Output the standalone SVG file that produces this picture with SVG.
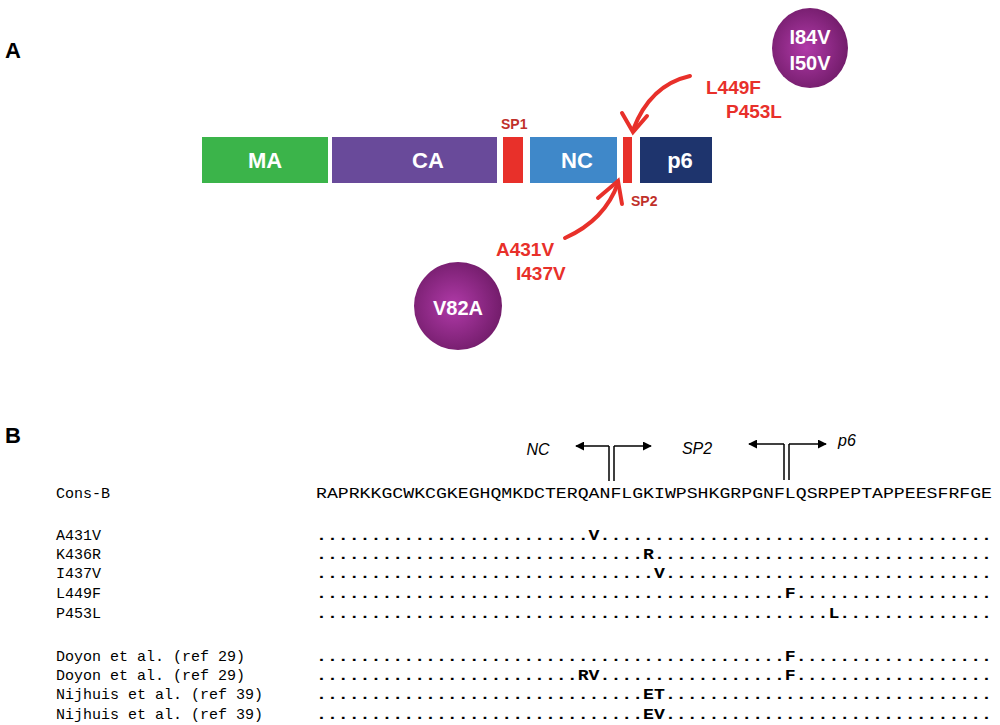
<svg xmlns="http://www.w3.org/2000/svg" width="1000" height="725" viewBox="0 0 1000 725">
<defs>
<radialGradient id="pg" cx="0.45" cy="0.5" r="0.6"><stop offset="0" stop-color="#b03aa8"/><stop offset="1" stop-color="#6e1a66"/></radialGradient>
<marker id="ah" viewBox="0 0 10 10" refX="9" refY="5" markerWidth="9" markerHeight="9" orient="auto" markerUnits="userSpaceOnUse"><path d="M0,0 L10,5 L0,10 z" fill="#000"/></marker>
</defs>
<style>
.lab{font-family:"Liberation Sans",Arial,sans-serif;font-weight:bold;fill:#fff;font-size:22px;text-anchor:middle}
.red{font-family:"Liberation Sans Narrow","Liberation Sans",sans-serif;font-weight:bold;fill:#e8302a;font-size:19px}
.sp{font-family:"Liberation Sans",sans-serif;font-weight:bold;fill:#c0302a;font-size:14px}
.mono{font-family:"Liberation Mono","Courier New",monospace;font-size:15px;fill:#000}
.it{font-family:"Liberation Sans",sans-serif;font-style:italic;font-size:16px;fill:#000}
.big{font-family:"Liberation Sans",sans-serif;font-weight:bold;font-size:22px;fill:#000}
</style>
<text class="big" x="5" y="58">A</text>
<text class="big" x="5" y="443">B</text>
<g id="MA"><rect x="202" y="137" width="126" height="46" fill="#3bb44a"/><text class="lab" x="265" y="168">MA</text></g>
<g id="CA"><rect x="332" y="137" width="165" height="46" fill="#694a9a"/><text class="lab" x="428" y="168">CA</text></g>
<g id="SP1"><rect x="503" y="137" width="20" height="46" fill="#e8302a"/><text class="sp" x="501" y="129">SP1</text></g>
<g id="NC"><rect x="530" y="137" width="87" height="46" fill="#3f88c9"/><text class="lab" x="577" y="168">NC</text></g>
<g id="SP2"><rect x="623" y="137" width="9" height="46" fill="#e8302a"/><text class="sp" x="631" y="206">SP2</text></g>
<g id="p6"><rect x="640" y="137" width="72" height="46" fill="#1e346d"/><text class="lab" x="680" y="168">p6</text></g>
<g id="PR1"><ellipse cx="810" cy="48" rx="38" ry="40" fill="url(#pg)"/><text class="lab" x="810" y="44" style="font-size:20px">I84V</text><text class="lab" x="810" y="70" style="font-size:20px">I50V</text></g>
<g id="PR2"><ellipse cx="458" cy="306" rx="44" ry="44" fill="url(#pg)"/><text class="lab" x="458" y="315" style="font-size:20px">V82A</text></g>
<g id="connectors" fill="none" stroke="#e8302a" stroke-width="4" stroke-linecap="round">
<path d="M690,76 Q650,85 633,130"/><path d="M622,113 L633,132 L647,116"/>
<path d="M565,238 Q605,220 618,183"/><path d="M598,198 L618,181 L622,204"/>
</g>
<text class="red" x="706" y="94">L449F</text>
<text class="red" x="726" y="118">P453L</text>
<text class="red" x="496" y="256">A431V</text>
<text class="red" x="516" y="280">I437V</text>
<g id="seqarrows" stroke="#000" stroke-width="1.5" fill="none">
<path d="M609,481 V446 M614,481 V446"/>
<path d="M609,446 H576" marker-end="url(#ah)"/><path d="M614,446 H651" marker-end="url(#ah)"/>
<path d="M784,480 V444 M789,480 V444"/>
<path d="M784,444 H749" marker-end="url(#ah)"/><path d="M789,444 H826" marker-end="url(#ah)"/>
</g>
<text class="it" x="538" y="455" text-anchor="middle">NC</text>
<text class="it" x="697" y="454" text-anchor="middle">SP2</text>
<text class="it" x="847" y="446" text-anchor="middle">p6</text>
<g class="mono">
<text x="56" y="498">Cons-B</text>
<text x="316" y="498" textLength="676" lengthAdjust="spacingAndGlyphs">RAPRKKGCWKCGKEGHQMKDCTERQANFLGKIWPSHKGRPGNFLQSRPEPTAPPEESFRFGE</text>
<text x="56" y="540">A431V</text><text x="56" y="559">K436R</text><text x="56" y="578">I437V</text><text x="56" y="598">L449F</text><text x="56" y="618">P453L</text>
<text x="56" y="661">Doyon et al. (ref 29)</text><text x="56" y="680">Doyon et al. (ref 29)</text><text x="56" y="699">Nijhuis et al. (ref 39)</text><text x="56" y="719">Nijhuis et al. (ref 39)</text>
<g style="font-weight:bold">
<text x="316" y="540" textLength="676" lengthAdjust="spacingAndGlyphs">.........................V....................................</text>
<text x="316" y="559" textLength="676" lengthAdjust="spacingAndGlyphs">..............................R...............................</text>
<text x="316" y="578" textLength="676" lengthAdjust="spacingAndGlyphs">...............................V..............................</text>
<text x="316" y="598" textLength="676" lengthAdjust="spacingAndGlyphs">...........................................F..................</text>
<text x="316" y="618" textLength="676" lengthAdjust="spacingAndGlyphs">...............................................L..............</text>
<text x="316" y="661" textLength="676" lengthAdjust="spacingAndGlyphs">...........................................F..................</text>
<text x="316" y="680" textLength="676" lengthAdjust="spacingAndGlyphs">........................RV.................F..................</text>
<text x="316" y="699" textLength="676" lengthAdjust="spacingAndGlyphs">..............................ET..............................</text>
<text x="316" y="719" textLength="676" lengthAdjust="spacingAndGlyphs">..............................EV..............................</text>
</g>
</g>
</svg>
